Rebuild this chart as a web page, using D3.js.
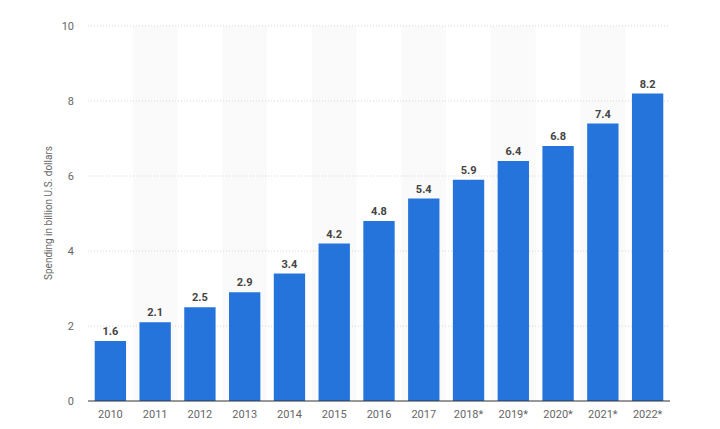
<!DOCTYPE html>
<html><head><meta charset="utf-8">
<script src="https://cdn.jsdelivr.net/npm/d3@7"></script>
<style>html,body{margin:0;padding:0;background:#fff;}svg{display:block;font-family:"Roboto","Liberation Sans",Arial,sans-serif;}</style>
</head><body>
<svg id="c" width="720" height="429"></svg>
<script>
const categories = ["2010","2011","2012","2013","2014","2015","2016","2017","2018*","2019*","2020*","2021*","2022*"];
const values = [1.6,2.1,2.5,2.9,3.4,4.2,4.8,5.4,5.9,6.4,6.8,7.4,8.2];
const yTicks = [0,2,4,6,8,10];
const yLabel = "Spending in billion U.S. dollars";

const svg = d3.select("#c");
const x = d3.scaleBand().domain(categories).range([88,670]).paddingInner(0.3).paddingOuter(0.15);
const y = d3.scaleLinear().domain([0,10]).range([401,26]);
const step = x.step();

// alternating stripes
svg.append("g").selectAll("rect").data(categories.filter((d,i)=>i%2===1)).join("rect")
  .attr("x", d=>x(d)-(step-x.bandwidth())/2).attr("width", step)
  .attr("y", y(10)).attr("height", y(0)-y(10)).attr("fill","#fafafa");

// grid
svg.append("g").selectAll("line").data(yTicks.filter(t=>t>0)).join("line")
  .attr("x1",88).attr("x2",670).attr("y1",d=>y(d)).attr("y2",d=>y(d))
  .attr("stroke","#d6d6d6").attr("stroke-width",1).attr("stroke-dasharray","1,2");

// y axis
const ya = svg.append("g").attr("transform","translate(74,0)").call(d3.axisLeft(y).tickValues(yTicks).tickSize(0).tickPadding(0));
ya.select(".domain").remove();
ya.selectAll("text").attr("fill","#666").attr("font-size",11).attr("font-family","Roboto, Liberation Sans, Arial, sans-serif");

svg.append("text").attr("transform","translate(52,213) rotate(-90)").attr("text-anchor","middle")
  .attr("fill","#666").attr("font-size",10).text(yLabel);

// bars
svg.append("g").selectAll("rect").data(values).join("rect")
  .attr("x",(d,i)=>x(categories[i])).attr("width",x.bandwidth())
  .attr("y",d=>y(d)).attr("height",d=>y(0)-y(d)).attr("fill","#2474dc");

// value labels
svg.append("g").selectAll("text").data(values).join("text")
  .attr("x",(d,i)=>x(categories[i])+x.bandwidth()/2).attr("y",d=>y(d)-6)
  .attr("text-anchor","middle").attr("font-size",11).attr("font-weight","bold").attr("fill","#444")
  .text(d=>d.toFixed(1));

// x axis
const xa = svg.append("g").attr("transform","translate(0,401)").call(d3.axisBottom(x).tickSize(0).tickPadding(9));
xa.select(".domain").attr("stroke","#333").attr("stroke-width",1.2).attr("d","M88,0H670");
xa.selectAll("text").attr("fill","#666").attr("font-size",11).attr("font-family","Roboto, Liberation Sans, Arial, sans-serif");
</script>
</body></html>
